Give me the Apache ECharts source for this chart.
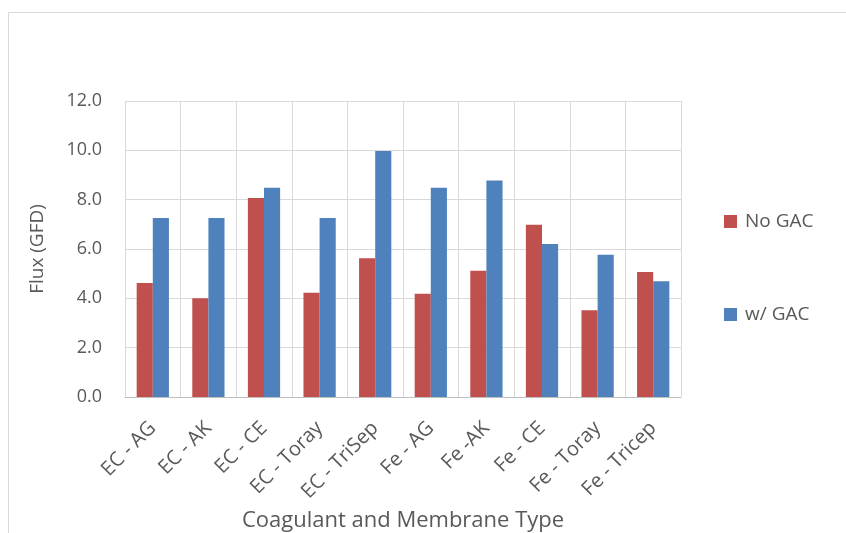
<!DOCTYPE html>
<html><head><meta charset="utf-8">
<script src="https://cdn.jsdelivr.net/npm/echarts@6/dist/echarts.min.js"></script>
<style>html,body{margin:0;padding:0;background:#fff}#c{width:846px;height:533px}</style>
</head><body><div id="c"></div>
<script>
const categories = ['EC - AG','EC - AK','EC - CE','EC - Toray','EC - TriSep','Fe - AG','Fe -AK','Fe - CE','Fe - Toray','Fe - Tricep'];
const noGAC = [4.62, 4.0, 8.07, 4.23, 5.63, 4.19, 5.12, 6.98, 3.52, 5.07];
const wGAC = [7.26, 7.26, 8.48, 7.26, 9.97, 8.48, 8.78, 6.20, 5.77, 4.69];
const seriesNames = ['No GAC', 'w/ GAC'];
const yTicks = {min: 0, max: 12, interval: 2};

const FONT = '"Open Sans", "Liberation Sans", sans-serif';
const TXT = '#595959';
const chart = echarts.init(document.getElementById('c'));
chart.setOption({
  animation: false,
  backgroundColor: '#fff',
  graphic: [{type:'rect', left:6, top:10, shape:{width:900, height:600}, style:{fill:'none', stroke:'#d9d9d9', lineWidth:1}, silent:true, z:-1}],
  grid: {left:125, top:101, width:556, height:296, containLabel:false, outerBoundsMode:'none'},
  legend: {
    orient:'vertical', left:719, top:207, itemGap:74, itemWidth:13, itemHeight:13,
    icon:'rect',
    textStyle:{fontFamily:FONT, fontSize:19, color:TXT, padding:[0,0,0,3]},
    data: seriesNames
  },
  xAxis: {
    type:'category', data:categories,
    name:'Coagulant and Membrane Type', nameLocation:'middle', nameGap:110,
    nameTextStyle:{fontFamily:FONT, fontSize:22, color:TXT},
    axisLine:{lineStyle:{color:'#bfbfbf', width:1}},
    axisTick:{show:false},
    splitLine:{show:true, lineStyle:{color:'#d9d9d9', width:1}},
    axisLabel:{rotate:45, fontFamily:FONT, fontSize:20, color:TXT, margin:28, interval:0}
  },
  yAxis: {
    type:'value', min:yTicks.min, max:yTicks.max, interval:yTicks.interval,
    name:'Flux (GFD)', nameLocation:'middle', nameGap:78, nameRotate:90,
    nameTextStyle:{fontFamily:FONT, fontSize:19, color:TXT},
    axisLine:{show:false}, axisTick:{show:false},
    splitLine:{lineStyle:{color:'#d9d9d9', width:1}},
    axisLabel:{fontFamily:FONT, fontSize:18, color:TXT, margin:23, formatter: v => v.toFixed(1)}
  },
  series: [
    {name:seriesNames[0], type:'bar', data:noGAC, itemStyle:{color:'#c0504d'}, barGap:'0%', barCategoryGap:'42%'},
    {name:seriesNames[1], type:'bar', data:wGAC, itemStyle:{color:'#4f81bd'}, barGap:'0%', barCategoryGap:'42%'}
  ]
});
</script></body></html>
